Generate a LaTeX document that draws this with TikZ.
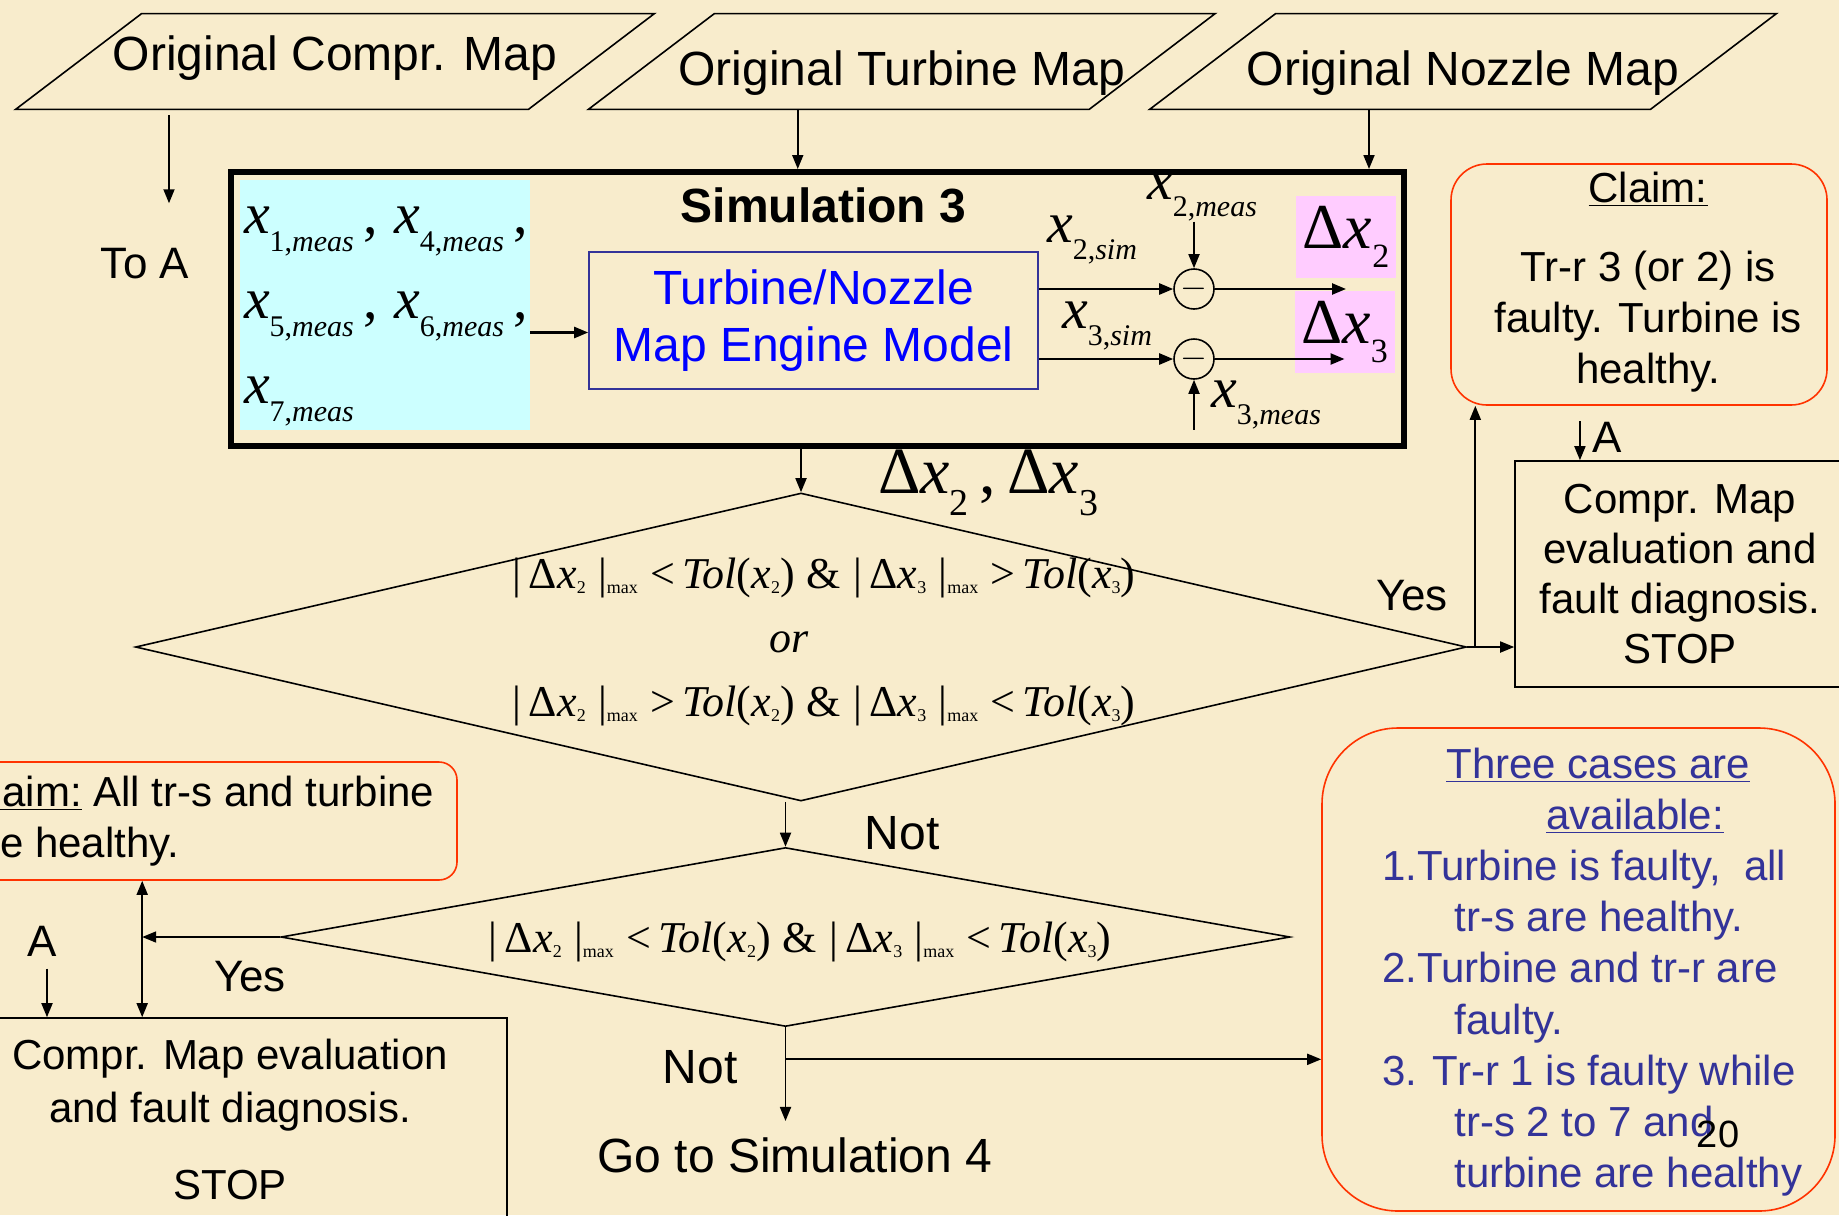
\documentclass[tikz,border=0pt]{standalone}
\usepackage{fontspec}
\setmainfont{Liberation Sans}
\newfontfamily\tms{Liberation Serif}
\usepackage{xcolor}
\usetikzlibrary{positioning, arrows.meta, shapes.geometric, calc}
\definecolor{parch}{HTML}{F8ECCC}
\definecolor{measbg}{HTML}{CCFFFF}
\definecolor{deltabg}{HTML}{FFCCFF}
\definecolor{navy}{HTML}{333399}
\definecolor{claimred}{HTML}{FF3300}
\definecolor{modelblue}{HTML}{0000FF}
% lowered small text, variable with subscript, condition pieces
\newcommand\lowr[3][.3em]{\raisebox{-#1}{\fontsize{#2}{#2}\selectfont #3}}
\newcommand\xsub[3][.3em]{\textit{x}\lowr[#1]{#2}{#3}}
\newcommand\dmax[1]{|\,Δ\textit{x}\lowr[.12em]{9}{#1}\;|\lowr[.12em]{9}{max}}
\newcommand\tolx[1]{\textit{Tol}(\textit{x}\lowr[.12em]{9}{#1})}
% slanted outline round a map node
\newcommand\slantframe[1]{%
  \draw[line width=0.8pt] ($(#1.south west)+(-31.5pt,0pt)$) -- ($(#1.north west)+(31.5pt,0pt)$)
    -- ($(#1.north east)+(31.5pt,0pt)$) -- ($(#1.south east)+(-31.5pt,0pt)$) -- cycle;}
\tikzset{
  mapin/.style={minimum width=250pt, minimum height=47.5pt, inner sep=0pt,
                font=\fontsize{24}{28}\selectfont},
  simbox/.style={draw, line width=3pt, minimum width=586.5pt, minimum height=137pt},
  measbox/.style={fill=measbg, minimum width=145pt, minimum height=123pt, text width=141pt,
                  align=left, inner sep=2pt, font=\tms\fontsize{29}{42.5}\selectfont},
  model/.style={draw=navy, line width=0.8pt, text=modelblue, align=center,
                minimum width=224.5pt, minimum height=68.5pt, font=\fontsize{24}{28.5}\selectfont},
  diff/.style={circle, draw, line width=0.8pt, minimum size=20pt, inner sep=0pt},
  dbox/.style={fill=deltabg, minimum width=50pt, minimum height=41pt, inner sep=0pt,
               font=\tms\fontsize{32}{32}\selectfont},
  sym/.style={inner sep=0pt, font=\tms\fontsize{29}{29}\selectfont},
  dec/.style={diamond, draw, line width=0.8pt, inner sep=0pt},
  cond/.style={align=center, inner sep=0pt, font=\tms\fontsize{22}{32}\selectfont},
  claim/.style={draw=claimred, line width=0.8pt, rounded corners=18pt, align=center,
                font=\fontsize{21}{25.5}\selectfont},
  result/.style={draw, line width=0.8pt, align=center, font=\fontsize{21}{25}\selectfont},
  lbl/.style={inner sep=0pt, font=\fontsize{22}{26}\selectfont},
  big/.style={inner sep=0pt, font=\fontsize{24}{28}\selectfont},
  ar/.style={-{Triangle[length=7pt,width=5.5pt]}, line width=0.9pt},
  arb/.style={{Triangle[length=7pt,width=5.5pt]}-{Triangle[length=7pt,width=5.5pt]}, line width=0.9pt},
}

\begin{document}
\begin{tikzpicture}[x=0.5pt, y=-0.5pt]

  \useasboundingbox (0,0) rectangle (1839,1215);
  \clip (0,0) rectangle (1839,1215);
  \fill[parch] (0,0) rectangle (1839,1215);

  % --- original maps (top) ---
  \node[mapin, minimum width=256pt, text height=19pt, text depth=10pt] (cmap) at (335,61.5) {Original Compr. Map};
  \node[mapin, text height=24pt, text depth=0pt] (tmap) at (901.75,61.5) {Original Turbine Map};
  \node[mapin, text height=24pt, text depth=0pt] (nmap) at (1463,61.5) {Original Nozzle Map};
  \slantframe{cmap}
  \slantframe{tmap}
  \slantframe{nmap}
  \node[lbl] (toA) at (145,264) {To A};

  % --- simulation 3 block ---
  \node[simbox] (sim) at (817.5,309) {};
  \node[font=\bfseries\fontsize{24}{28}\selectfont, below=6pt of sim.north, xshift=3pt] (simtitle) {Simulation 3};
  \node[measbox] (meas) at (385,305)
       {\rule{0pt}{25pt}\xsub{15}{1,\textit{meas}}\,,\;\xsub{15}{4,\textit{meas}}\,,\\
        \xsub{15}{5,\textit{meas}}\,,\;\xsub{15}{6,\textit{meas}}\,,\\
        \xsub{15}{7,\textit{meas}}};
  \node[model] (model) at (813.5,320.5) {Turbine/Nozzle\\Map Engine Model};
  \node[diff] (d2) at (1194,289) {\fontsize{18}{18}\selectfont$-$};
  \node[diff] (d3) at (1194,359) {\fontsize{18}{18}\selectfont$-$};
  \node[dbox] (dx2) at (1346,237) {Δ\xsub{17}{2}};
  \node[dbox] (dx3) at (1344.5,332) {Δ\xsub{17}{3}};
  \node[sym] (x2s) at (1092,240) {\xsub{15}{2,\textit{sim}}};
  \node[sym] (x3s) at (1107,326) {\xsub{15}{3,\textit{sim}}};
  \node[sym] (x2m) at (1202,197) {\xsub{15}{2,\textit{meas}}};
  \node[sym] (x3m) at (1266,405) {\xsub{15}{3,\textit{meas}}};
  \node[inner sep=0pt, font=\tms\fontsize{33}{33}\selectfont] (dxx) at (988,483)
       {Δ\xsub[.33em]{19}{2}\,,\,Δ\xsub[.33em]{19}{3}};

  % --- first decision ---
  \node[dec, minimum width=665.5pt, minimum height=154pt] (dec1) at (801,647) {};
  \node[cond] (cond1) at (824,642)
       {\dmax{2}\;<\,\tolx{2}\;\&\;\dmax{3}\;>\,\tolx{3}\\
        \hbox{\textit{or}\hspace{35pt}}\\
        \dmax{2}\;>\,\tolx{2}\;\&\;\dmax{3}\;<\,\tolx{3}};
  \node[lbl] (yesR) at (1412,596) {Yes};
  \node[claim, minimum width=188pt, minimum height=120.5pt] (claim1) at (1639,284.5) {};
  \node[align=center, inner sep=0pt, font=\fontsize{21}{25.5}\selectfont] (claim1txt) at (1648,282)
       {\underline{Claim:}\\[14pt]Tr-r 3 (or 2) is\\faulty. Turbine is\\healthy.};
  \node[lbl] (aR) at (1607,437) {A};
  \node[result, minimum width=165pt, minimum height=113pt] (res1) at (1680,574)
       {Compr. Map\\evaluation and\\fault diagnosis.\\STOP};

  % --- second decision ---
  \node[big] (not1) at (902,833) {Not};
  \node[dec, minimum width=504.5pt, minimum height=89.5pt] (dec2) at (785.5,937) {};
  \node[cond] (cond2) at (800,942) {\dmax{2}\;<\,\tolx{2}\;\&\;\dmax{3}\;<\,\tolx{3}};
  \node[claim, rounded corners=9pt, minimum width=258.5pt, minimum height=59pt, align=left] (claim2)
       at (198.5,821) {\underline{Claim:} All tr-s and turbine\\are healthy.};
  \node[lbl] (yesL) at (250,977) {Yes};
  \node[lbl] (aL) at (42,941) {A};
  \node[result, minimum width=277pt, minimum height=101pt, font=\fontsize{21}{26.5}\selectfont] (res2)
       at (230,1119) {Compr. Map evaluation\\and fault diagnosis.\\[12pt]STOP};
  \node[big] (not2) at (700,1067) {Not};
  \node[big, inner sep=8pt] (go) at (795,1155) {Go to Simulation 4};

  % --- three cases ---
  \node[claim, rounded corners=38pt, minimum width=256.5pt, minimum height=241.5pt] (cases)
       at (1578.5,969.5) {};
  \node[anchor=west, align=left, inner sep=0pt, text=navy, font=\fontsize{21}{25.6}\selectfont]
       (casestxt) at (1382,972)
       {\hspace*{32pt}\underline{Three cases are}\\
        \hspace*{82pt}\underline{available:}\\
        1.Turbine is faulty,\ \ all\\
        \hspace*{36pt}tr-s are healthy.\\
        2.Turbine and tr-r are\\
        \hspace*{36pt}faulty.\\
        3. Tr-r 1 is faulty while\\
        \hspace*{36pt}tr-s 2 to 7 and\\
        \hspace*{36pt}turbine are healthy};
  \node[inner sep=0pt, font=\fontsize{19}{19}\selectfont] (pgno) at (1718,1134) {20};

  % --- arrows ---
  \coordinate (cA) at ($(toA.north)+(24,0)$);
  \draw[ar] ($(cA |- cmap.south)+(0,6)$) -- ($(cA)+(0,-45)$);
  \coordinate (tin) at ($(tmap.south)+(-104,0)$);
  \coordinate (nin) at ($(nmap.south)+(-94,0)$);
  \draw[ar] (tin) -- (tin |- sim.north);
  \draw[ar] (nin) -- (nin |- sim.north);
  \draw[ar, line width=1.2pt] ([yshift=-6pt]model.west -| meas.east) -- ([yshift=-6pt]model.west);
  \draw[ar, line width=1.2pt] (d2 -| model.east) -- (d2.west);
  \draw[ar, line width=1.2pt] (d3 -| model.east) -- (d3.west);
  \draw[ar, line width=1.2pt] (d2.east) -- (d2 -| dx2);
  \draw[ar, line width=1.2pt] (d3.east) -- (d3 -| dx3);
  \draw[ar] (d2 |- x2m.south) -- (d2.north);
  \draw[ar] (d3 |- x3m.south) -- (d3.south);

  \draw[ar] (dec1.north |- sim.south) -- (dec1.north);
  \draw[ar] (dec1.east) -- (dec1.east -| res1.west);
  \coordinate (jy) at ($(dec1.east)+(8,0)$);
  \draw[ar] (jy) -- (jy |- claim1.south);
  \coordinate (aRtop) at ($(aR.north west)+(-12,0)$);
  \draw[ar] (aRtop) -- (aRtop |- res1.north);

  \draw[ar] (dec2.north |- dec1.south) -- (dec2.north);
  \coordinate (jl) at ($(dec2.west)+(-138,0)$);
  \draw[ar] (dec2.west) -- (jl);
  \draw[arb] (jl |- claim2.south) -- (jl |- res2.north);
  \coordinate (aLb) at ($(aL.south)+(5,12)$);
  \draw[ar] (aLb) -- (aLb |- res2.north);
  \draw[ar] (dec2.south) -- (dec2.south |- go.north);
  \coordinate (jn) at ($(dec2.south)+(0,32)$);
  \draw[ar] (jn) -- (jn -| cases.west);

\end{tikzpicture}
\end{document}
